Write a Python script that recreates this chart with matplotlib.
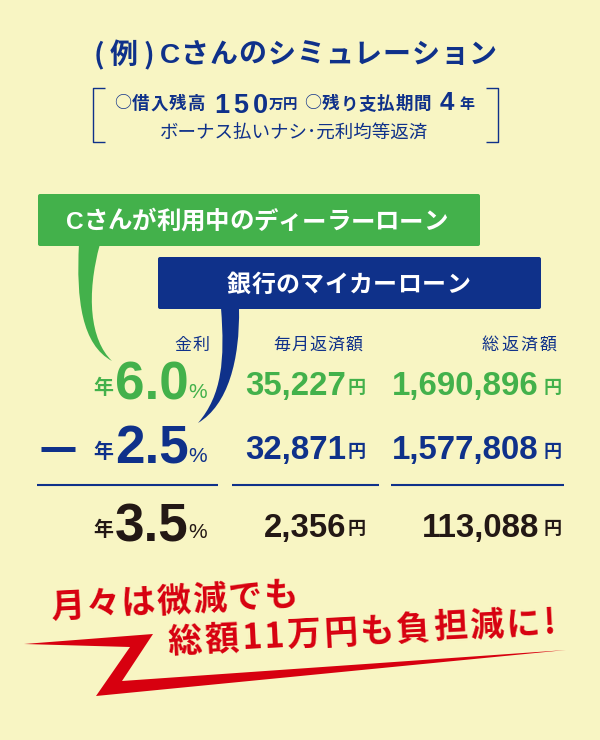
import matplotlib
matplotlib.use("Agg")
import matplotlib.pyplot as plt
from matplotlib.patches import PathPatch, FancyBboxPatch, Polygon
from matplotlib.path import Path
from matplotlib.font_manager import FontProperties
from matplotlib.textpath import TextToPath
import math

BG = "#F8F5C3"; GREEN = "#43B14B"; NAVY = "#0F318A"; BLACK = "#231815"; RED = "#D7000F"
JP = ["Noto Sans CJK JP", "DejaVu Sans"]
LAT = ["Liberation Sans", "Noto Sans CJK JP"]

rates = [6.0, 2.5, 3.5]
monthly = [35227, 32871, 2356]
totals = [1690896, 1577808, 113088]
row_colors = [GREEN, NAVY, BLACK]
headers = ["金利", "毎月返済額", "総返済額"]
title_a = "(例)"
title_b = "Cさんのシミュレーション"
loan_a = "Cさんが利用中のディーラーローン"
loan_b = "銀行のマイカーローン"
slogan_1 = "月々は微減でも"
slogan_2 = "総額11万円も負担減に!"

fig = plt.figure(figsize=(6, 7.4), dpi=100, facecolor=BG)
ax = fig.add_axes([0, 0, 1, 1])
ax.set_xlim(0, 600); ax.set_ylim(740, 0); ax.axis("off")

PX = 0.72
t2p = TextToPath()

def txt(x, y, s, px, color, ha="center", family=JP, weight="bold", **kw):
    return ax.text(x, y, s, fontsize=px * PX, color=color, ha=ha, va="center",
                   family=family, weight=weight, **kw)

def tracked(x0, x1, y, s, px, color, family=JP, weight="bold", rot=0, z=5):
    """Spread the characters of s evenly from x0 to x1 along a baseline tilted by rot degrees."""
    fp = FontProperties(family=family, weight=weight, size=px * PX)
    adv = []
    for c in s:
        w, _, _ = t2p.get_text_width_height_descent(c, fp, False)
        adv.append(w * 100 / 72)
    extra = ((x1 - x0) - sum(adv)) / max(len(s) - 1, 1)
    a = math.radians(rot)
    off = 0.36 * px
    pos = 0
    for c, w in zip(s, adv):
        d = pos + w / 2
        ax.text(x0 + d * math.cos(a) + off * math.sin(a), y - d * math.sin(a) + off * math.cos(a), c,
                fontsize=px * PX, color=color, ha="center", va="baseline",
                rotation=rot, rotation_mode="anchor", family=family, weight=weight, zorder=z)
        pos += w + extra

# heading
tracked(94, 154, 53, title_a, 28, NAVY)
tracked(160, 497, 53, title_b, 28, NAVY, family=LAT)

# brackets
for xs in ([105, 93, 93, 105], [486, 498, 498, 486]):
    ax.plot(xs, [88, 88, 142, 142], color=NAVY, lw=1.0, solid_capstyle="butt")

txt(114, 103, "○", 17, NAVY, ha="left", weight="normal")
tracked(132, 205, 103, "借入残高", 17.5, NAVY)
tracked(214, 268, 103, "150", 27, NAVY, family=LAT)
tracked(269, 297, 104, "万円", 14.5, NAVY)
txt(304, 103, "○", 17, NAVY, ha="left", weight="normal")
tracked(322, 431, 103, "残り支払期間", 17.5, NAVY)
txt(440, 103, "4", 26, NAVY, ha="left", family=LAT)
txt(467, 104, "年", 15, NAVY)
txt(294, 134, "ボーナス払いナシ･元利均等返済", 18.5, NAVY, weight="normal")

# callout tails
codes = [Path.MOVETO, Path.CURVE4, Path.CURVE4, Path.CURVE4, Path.CURVE4, Path.CURVE4, Path.CURVE4, Path.CLOSEPOLY]
verts_g = [(79, 244), (76, 300), (82, 345), (112, 361), (90, 340), (86, 295), (100, 244), (79, 244)]
ax.add_patch(PathPatch(Path(verts_g, codes), fc=GREEN, ec="none", zorder=2))
verts_b = [(221, 308), (225, 360), (222, 395), (198, 423), (228, 405), (240, 360), (239, 308), (221, 308)]
ax.add_patch(PathPatch(Path(verts_b, codes), fc=NAVY, ec="none", zorder=2))

# callout boxes
for (x0, y0, x1, y1, c) in [(38, 194, 480, 246, GREEN), (158, 257, 541, 309, NAVY)]:
    ax.add_patch(FancyBboxPatch((x0 + 2, y0 + 2), x1 - x0 - 4, y1 - y0 - 4,
                                boxstyle="round,pad=2,rounding_size=2", fc=c, ec="none", zorder=3))
tracked(66, 448, 220, loan_a, 24.5, "white", family=LAT)
tracked(227, 470, 283, loan_b, 24, "white")

# column headers
tracked(174, 210, 344, headers[0], 17, NAVY, weight="normal")
tracked(273, 363, 344, headers[1], 17, NAVY, weight="normal")
tracked(482, 557, 344, headers[2], 17, NAVY, weight="normal")

# rows
row_y = [382, 446, 523]
for r, m, tot, c, y in zip(rates, monthly, totals, row_colors, row_y):
    txt(103, y + 6, "年", 20, c)
    txt(189, y + 4, f"{r:.1f}", 53, c, ha="right", family=LAT)
    txt(198, y + 10, "%", 21, c, family=LAT, weight="normal")
    txt(346, y + 5, f"{m:,}", 33, c, ha="right", family=LAT)
    txt(357, y + 6, "円", 18, c)
    txt(539, y + 5, f"{tot:,}", 33, c, ha="right", family=LAT)
    txt(553, y + 6, "円", 18, c)

# minus sign and rules
ax.plot([41, 75], [449, 449], color=NAVY, lw=3.6, solid_capstyle="butt")
for x0, x1 in [(37, 218), (232, 379), (391, 564)]:
    ax.plot([x0, x1], [485, 485], color=NAVY, lw=1.5, solid_capstyle="butt")

# slogan
tracked(50, 298, 606, slogan_1, 34, RED, rot=3)
tracked(168, 556, 641, slogan_2, 34, RED, rot=3)

# lightning stroke
ax.add_patch(Polygon([(24, 644), (153, 634), (122, 681), (566, 650), (96, 696), (130, 647)],
                     closed=True, fc=RED, ec="none"))

fig.savefig("out.png", dpi=100, facecolor=BG)
